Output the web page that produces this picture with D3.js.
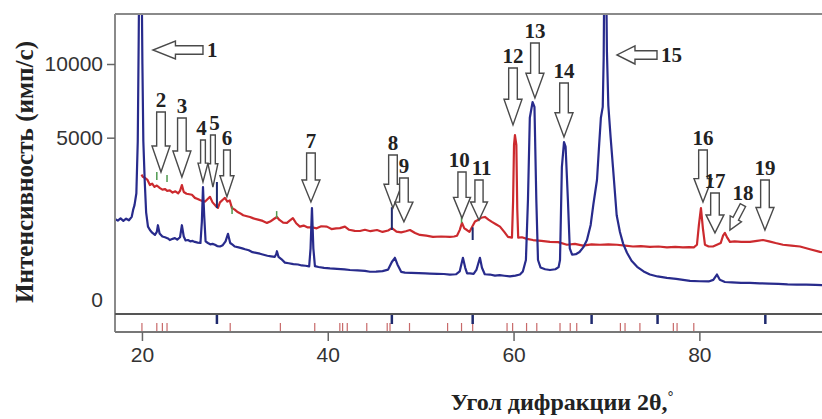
<!DOCTYPE html>
<html>
<head>
<meta charset="utf-8">
<script src="https://cdn.jsdelivr.net/npm/d3@7"></script>
<style>
  body { margin: 0; background: #fff; }
  svg { display: block; }
  .axis text { font-family: "Liberation Sans", Arial, sans-serif; font-size: 21px; fill: #333; }
  .axis line { stroke: #666; stroke-width: 1.5; }
  .note { font-family: "Liberation Serif", "Times New Roman", serif; font-weight: bold; font-size: 21px; fill: #222; }
  .title { font-family: "Liberation Serif", "Times New Roman", serif; font-weight: bold; font-size: 24px; fill: #222; }
</style>
</head>
<body>
<svg id="chart" width="822" height="419"></svg>
<script>
// scans: [2theta, counts]
const blueScan = [[17.1,1380],[17.4,1330],[17.7,1400],[18.0,1320],[18.3,1390],[18.6,1340],[18.9,1450],[19.05,1680],[19.2,1850],[19.4,2300],[19.55,4800],[19.65,12000],[19.72,20000],[19.95,20000],[20.05,10000],[20.15,4800],[20.3,2800],[20.45,1600],[20.65,1150],[20.86,1053],[21.1,980],[21.4,920],[21.6,1000],[21.72,1190],[21.9,960],[22.2,880],[22.48,860],[22.8,830],[23.0,791],[23.3,820],[23.55,840],[23.8,800],[24.1,860],[24.3,1190],[24.5,880],[24.7,780],[24.95,791],[25.2,760],[25.45,770],[25.7,745],[26.0,730],[26.3,720],[26.45,1300],[26.57,2550],[26.7,1500],[26.85,760],[27.1,720],[27.35,690],[27.6,700],[27.86,680],[28.1,650],[28.4,640],[28.7,670],[29.0,760],[29.26,950],[29.5,720],[29.75,680],[30.0,640],[30.4,620],[30.8,600],[31.1,580],[31.5,560],[31.9,520],[32.3,505],[32.7,490],[33.1,470],[33.5,450],[33.9,440],[34.3,430],[34.45,480],[34.53,540],[34.7,430],[35.0,390],[35.39,330],[35.8,320],[36.3,305],[36.8,300],[37.2,285],[37.6,280],[38.0,272],[38.15,600],[38.3,1745],[38.45,600],[38.62,275],[39.0,262],[39.6,250],[40.24,242],[41.0,235],[41.8,228],[42.39,219],[43.2,214],[44.0,208],[44.54,196],[45.2,198],[45.9,205],[46.5,225],[46.9,340],[47.23,413],[47.5,300],[47.9,195],[48.31,185],[49.0,182],[49.8,178],[50.5,176],[51.0,174],[51.8,170],[52.5,168],[53.15,162],[53.8,165],[54.2,200],[54.55,413],[54.8,250],[55.0,175],[55.31,175],[55.7,170],[56.0,220],[56.38,413],[56.6,250],[56.9,165],[57.46,162],[58.0,150],[58.5,155],[59.0,148],[59.61,140],[60.2,150],[60.69,162],[61.0,200],[61.33,374],[61.55,2039],[61.75,6200],[62.05,7220],[62.25,6900],[62.45,2039],[62.63,374],[62.9,255],[63.4,230],[63.92,219],[64.5,230],[64.85,260],[65.0,374],[65.2,3450],[65.43,4750],[65.6,4500],[65.85,2039],[66.05,600],[66.3,470],[66.7,480],[67.1,525],[67.5,620],[67.9,791],[68.3,1200],[68.6,1900],[68.98,2858],[69.2,4500],[69.4,6200],[69.6,6900],[69.7,10500],[69.78,20000],[69.95,20000],[70.05,11000],[70.2,7000],[70.45,5000],[70.7,3450],[71.1,1500],[71.45,1000],[71.8,700],[72.21,508],[72.7,360],[73.3,265],[74.0,200],[74.68,162],[75.5,140],[76.5,125],[77.5,115],[78.99,95],[80.0,92],[81.0,90],[81.5,105],[81.89,162],[82.2,105],[82.75,85],[83.5,82],[84.5,78],[85.45,78],[86.5,74],[87.5,72],[88.5,70],[89.5,66],[90.5,64],[91.5,63],[92.5,61],[93.2,60]];

const redScan = [[19.95,3100],[20.1,3000],[20.32,2950],[20.6,2860],[20.86,2640],[21.1,2700],[21.35,2560],[21.6,2620],[21.94,2510],[22.2,2450],[22.5,2470],[22.69,2400],[23.0,2420],[23.3,2330],[23.6,2380],[23.9,2300],[24.1,2400],[24.3,2640],[24.5,2350],[24.8,2280],[25.1,2260],[25.38,2240],[25.7,2120],[26.0,2080],[26.24,2039],[26.5,2000],[26.8,1980],[27.05,2070],[27.32,2160],[27.6,1950],[28.0,1800],[28.18,1750],[28.4,1950],[28.7,2050],[28.93,2120],[29.2,1980],[29.45,2020],[29.69,1745],[29.95,1700],[30.25,1620],[30.55,1570],[30.9,1500],[31.3,1470],[31.63,1445],[32.0,1400],[32.5,1360],[33.0,1320],[33.46,1260],[33.8,1300],[34.2,1380],[34.53,1445],[34.8,1350],[35.2,1270],[35.61,1260],[35.9,1330],[36.25,1410],[36.6,1250],[37.0,1150],[37.4,1180],[37.8,1130],[38.3,1130],[38.8,1100],[39.3,1160],[39.91,1150],[40.4,1080],[40.9,1100],[41.31,1105],[41.85,1150],[42.3,1060],[42.9,1030],[43.47,1025],[44.0,1060],[44.6,1020],[45.3,1053],[45.9,1000],[46.5,1040],[46.91,1105],[47.4,1010],[47.9,990],[48.4,1020],[48.85,1053],[49.4,970],[49.92,920],[50.6,900],[51.32,870],[52.2,880],[53.15,870],[53.6,880],[53.91,900],[54.2,1050],[54.45,1260],[54.7,1100],[54.98,1053],[55.25,1000],[55.52,1130],[55.85,1300],[56.17,1348],[56.5,1420],[56.92,1445],[57.3,1360],[57.67,1290],[58.1,1220],[58.54,1150],[59.0,1000],[59.4,870],[59.83,850],[59.95,2000],[60.05,4600],[60.15,5150],[60.3,4600],[60.4,1700],[60.5,850],[60.9,860],[61.44,820],[62.09,791],[63.0,770],[63.92,745],[64.8,740],[65.75,680],[66.6,700],[67.47,660],[68.4,690],[69.3,680],[70.2,690],[71.13,680],[72.0,660],[72.85,640],[73.7,650],[74.68,630],[75.6,640],[76.51,620],[77.4,630],[78.23,620],[78.9,625],[79.4,620],[79.74,680],[79.95,1200],[80.17,1745],[80.38,1100],[80.6,680],[81.0,640],[81.46,640],[81.89,680],[82.3,720],[82.55,900],[82.75,975],[83.0,850],[83.29,745],[83.8,760],[84.5,745],[85.45,745],[86.2,770],[86.85,791],[87.5,760],[88.2,720],[89.0,680],[89.9,660],[90.83,640],[91.9,580],[92.98,525],[93.2,520]];

// reference line positions in the lower strip, 2theta
const blueRefLines = [28.07, 46.9, 55.6, 68.4, 75.5, 87.1];
const redRefLines = [20.0, 21.6, 22.2, 22.7, 29.5, 34.9, 38.6, 41.3, 41.6, 42.1, 44.2, 46.4, 46.7, 48.8, 52.9, 54.4, 55.6, 59.3, 59.9, 61.4, 62.5, 65.0, 66.1, 66.8, 71.5, 72.0, 73.6, 77.2, 77.6, 79.4];

// small phase marks on the red scan: [2theta, low counts, high counts]
const blueMarks = [[28.07, 1745, 2770], [46.9, 1053, 1775], [55.6, 791, 1130]];
const greenMarks = [[21.6, 2858, 3220], [22.7, 2770, 3080], [29.7, 1540, 1810], [34.5, 1410, 1640], [54.4, 1260, 1475]];

// numbered arrows: [label, tail 2theta, tail counts, tip 2theta, tip counts]
const arrowNotes = [
  ['1', 26.57, 11126, 21.18, 11126],
  ['2', 22.05, 6563, 22.05, 3220],
  ['3', 24.3, 6180, 24.3, 2990],
  ['4', 26.57, 4870, 26.57, 2770],
  ['5', 27.64, 5150, 27.64, 2550],
  ['6', 29.15, 4320, 29.15, 2160],
  ['7', 38.19, 4160, 38.19, 1964],
  ['8', 47.02, 4057, 47.02, 1745],
  ['9', 48.2, 2950, 48.2, 1290],
  ['10', 54.45, 3220, 54.45, 1410],
  ['11', 56.28, 2858, 56.28, 1348],
  ['12', 59.94, 9690, 59.94, 5750],
  ['13', 62.3, 11710, 62.3, 7500],
  ['14', 65.43, 8560, 65.43, 5040],
  ['15', 75.44, 10718, 71.13, 10718],
  ['16', 80.39, 4320, 80.39, 1964],
  ['17', 81.68, 2311, 81.68, 975],
  ['18', 84.69, 1850, 83.29, 1053],
  ['19', 87.06, 2858, 87.06, 1053]
];

const xTicks = [20, 40, 60, 80];
const yTicks = [0, 5000, 10000];

const W = 822, H = 419;
const padLeft = 115, padTop = 14, plotBottom = 314, stripBottom = 332;

const svg = d3.select('#chart');
svg.append('rect').attr('width', W).attr('height', H).attr('fill', '#fff');

const x = d3.scaleLinear().domain([17.1, 93.2]).range([padLeft, W]);
// intensity axis is compressed (power scale)
const y = d3.scalePow().exponent(0.54).domain([0, 10000]).range([300, 64]);

svg.append('defs').append('clipPath').attr('id', 'plotClip')
  .append('rect').attr('x', padLeft).attr('y', padTop).attr('width', W - padLeft).attr('height', plotBottom - padTop);

// reference strip
svg.append('g').selectAll('line')
  .data(redRefLines).enter().append('line')
  .attr('x1', d => x(d)).attr('x2', d => x(d))
  .attr('y1', stripBottom).attr('y2', stripBottom - 9)
  .attr('stroke', '#c86a6a').attr('stroke-width', 1.2);

svg.append('g').selectAll('line')
  .data(blueRefLines).enter().append('line')
  .attr('x1', d => x(d)).attr('x2', d => x(d))
  .attr('y1', plotBottom).attr('y2', plotBottom + 10)
  .attr('stroke', '#1f2a6e').attr('stroke-width', 2.5);

// scans
const line = d3.line().x(d => x(d[0])).y(d => y(d[1]));
const curves = svg.append('g').attr('clip-path', 'url(#plotClip)');

curves.append('path').datum(redScan)
  .attr('d', line).attr('fill', 'none')
  .attr('stroke', '#cc2a2e').attr('stroke-width', 2.2).attr('stroke-linejoin', 'round');

curves.append('path').datum(blueScan)
  .attr('d', line).attr('fill', 'none')
  .attr('stroke', '#282b8c').attr('stroke-width', 2.2).attr('stroke-linejoin', 'round');

curves.selectAll('line.gmark')
  .data(greenMarks).enter().append('line').attr('class', 'gmark')
  .attr('x1', d => x(d[0])).attr('x2', d => x(d[0]))
  .attr('y1', d => y(d[1])).attr('y2', d => y(d[2]))
  .attr('stroke', '#4f9a50').attr('stroke-width', 1.5);

curves.selectAll('line.bmark')
  .data(blueMarks).enter().append('line').attr('class', 'bmark')
  .attr('x1', d => x(d[0])).attr('x2', d => x(d[0]))
  .attr('y1', d => y(d[1])).attr('y2', d => y(d[2]))
  .attr('stroke', '#1f2a6e').attr('stroke-width', 2);

// arrows
function arrowPoints(x0, y0, x1, y1, sw, hw, hl) {
  const dx = x1 - x0, dy = y1 - y0, L = Math.hypot(dx, dy);
  const ux = dx / L, uy = dy / L, px = -uy, py = ux;
  const b = L - hl;
  return [[0, -sw / 2], [b, -sw / 2], [b, -hw / 2], [L, 0], [b, hw / 2], [b, sw / 2], [0, sw / 2]]
    .map(([s, t]) => [x0 + ux * s + px * t, y0 + uy * s + py * t]);
}

const arrows = arrowNotes.map(a => ({
  label: a[0], x0: x(a[1]), y0: y(a[2]), x1: x(a[3]), y1: y(a[4])
}));

arrows.forEach(a => {
  const L = Math.hypot(a.x1 - a.x0, a.y1 - a.y0);
  a.vertical = Math.abs(a.x1 - a.x0) < 1;
  a.side = Math.abs(a.x1 - a.x0) > Math.abs(a.y1 - a.y0);   // label beside the tail
  let hw = Math.min(18, L * 0.45);
  if (a.vertical) {
    // squeeze arrows that stand close to a neighbour
    arrows.forEach(b => {
      if (b === a || Math.abs(b.x1 - b.x0) >= 1) return;
      if (Math.abs(b.y0 - a.y0) < 20) hw = Math.min(hw, Math.abs(b.x0 - a.x0));
    });
  }
  a.hw = hw;
  a.sw = hw * 0.48;
  a.hl = Math.min(26, L * 0.45);
});

const ag = svg.append('g');
ag.selectAll('polygon')
  .data(arrows).enter().append('polygon')
  .attr('points', d => arrowPoints(d.x0, d.y0, d.x1, d.y1, d.sw, d.hw, d.hl).map(p => p.join(',')).join(' '))
  .attr('fill', '#fff').attr('stroke', '#4a4a4a').attr('stroke-width', 1.4).attr('stroke-linejoin', 'miter');

const labels = ag.selectAll('text')
  .data(arrows).enter().append('text')
  .attr('class', 'note')
  .attr('x', d => d.side ? d.x0 + 4 : d.x0)
  .attr('y', d => d.side ? d.y0 + 7 : d.y0 - 5)
  .attr('text-anchor', d => d.side ? 'start' : 'middle')
  .text(d => d.label);

// push apart labels that would run into each other
const boxes = [];
labels.each(function(d) { boxes.push({ d: d, node: this, b: this.getBBox() }); });
boxes.forEach((p, i) => {
  boxes.slice(i + 1).forEach(q => {
    const a = p.b, b = q.b;
    const ox = Math.min(a.x + a.width, b.x + b.width) - Math.max(a.x, b.x);
    const oy = Math.min(a.y + a.height, b.y + b.height) - Math.max(a.y, b.y);
    if (ox > 0 && oy > 2) {
      const [l, r] = a.x < b.x ? [p, q] : [q, p];
      const shift = ox / 2 + 1;
      l.b.x -= shift; r.b.x += shift;
      d3.select(l.node).attr('x', +d3.select(l.node).attr('x') - shift);
      d3.select(r.node).attr('x', +d3.select(r.node).attr('x') + shift);
    }
  });
});

// frame
const frame = svg.append('g').attr('fill', 'none');
frame.append('line').attr('x1', padLeft).attr('x2', W).attr('y1', padTop).attr('y2', padTop)
  .attr('stroke', '#8a8a8a').attr('stroke-width', 2);
frame.append('line').attr('x1', padLeft).attr('x2', padLeft).attr('y1', padTop).attr('y2', stripBottom)
  .attr('stroke', '#8a8a8a').attr('stroke-width', 2);
frame.append('line').attr('x1', padLeft).attr('x2', W).attr('y1', plotBottom).attr('y2', plotBottom)
  .attr('stroke', '#555').attr('stroke-width', 2);
frame.append('line').attr('x1', padLeft).attr('x2', W).attr('y1', stripBottom).attr('y2', stripBottom)
  .attr('stroke', '#777').attr('stroke-width', 2);

// axes
const yAxis = svg.append('g').attr('class', 'axis')
  .attr('transform', 'translate(' + padLeft + ',0)')
  .call(d3.axisLeft(y).tickValues(yTicks).tickFormat(d3.format('d')).tickSize(8).tickPadding(4));
yAxis.select('.domain').remove();
yAxis.selectAll('.tick').filter(d => d === 0).select('line').remove();

const xAxis = svg.append('g').attr('class', 'axis')
  .attr('transform', 'translate(0,' + stripBottom + ')')
  .call(d3.axisBottom(x).tickValues(xTicks).tickSize(9).tickPadding(6));
xAxis.select('.domain').remove();

// titles
svg.append('text').attr('class', 'title')
  .attr('transform', 'translate(33,172) rotate(-90)')
  .attr('text-anchor', 'middle')
  .attr('textLength', 262).attr('lengthAdjust', 'spacingAndGlyphs')
  .style('font-size', '25px')
  .text('Интенсивность (имп/с)');

const xt = svg.append('text').attr('class', 'title')
  .attr('x', 562).attr('y', 410).attr('text-anchor', 'middle');
xt.append('tspan').text('Угол дифракции 2θ,');
xt.append('tspan').attr('font-size', '14px').attr('dy', -9).text('°');
</script>
</body>
</html>
